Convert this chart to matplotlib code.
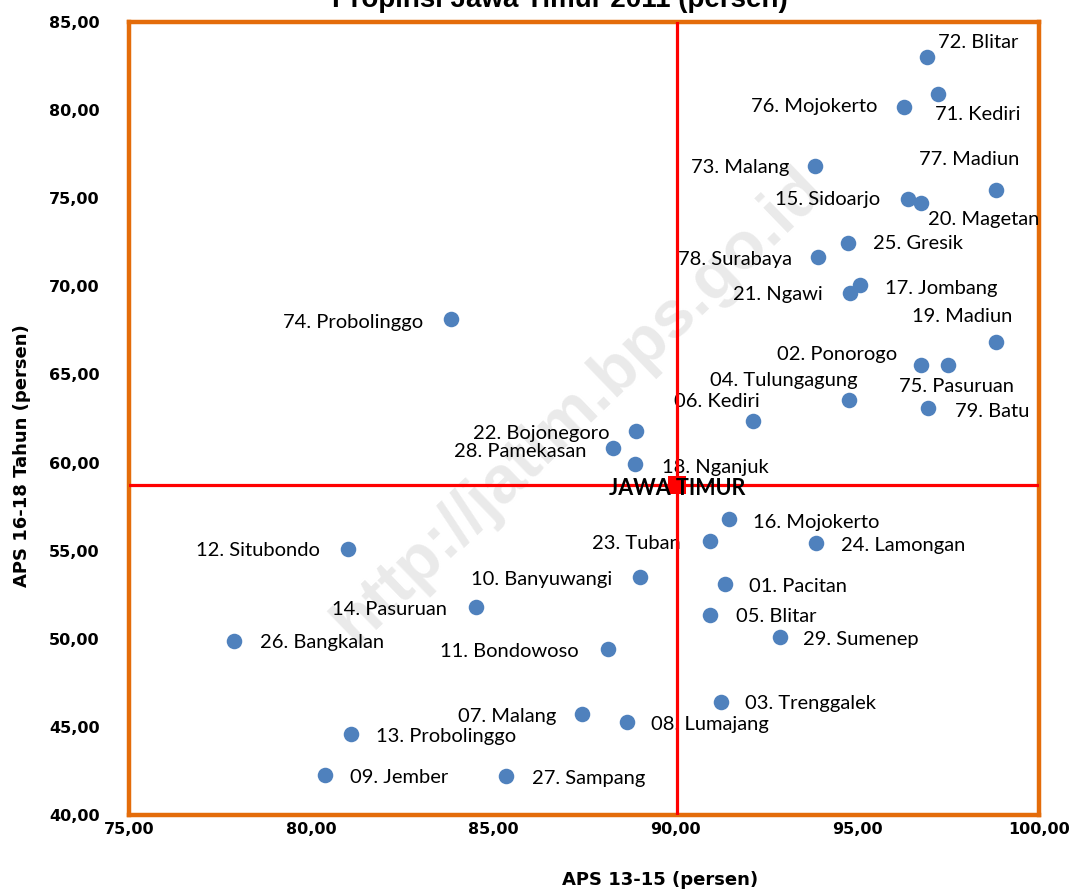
import matplotlib
matplotlib.use("Agg")
import matplotlib.pyplot as plt

# APS 13-15 (x) dan APS 16-18 (y) per kabupaten/kota, Jawa Timur 2011
kab_names = [
    "01. Pacitan", "02. Ponorogo", "03. Trenggalek", "04. Tulungagung", "05. Blitar",
    "06. Kediri", "07. Malang", "08. Lumajang", "09. Jember", "10. Banyuwangi",
    "11. Bondowoso", "12. Situbondo", "13. Probolinggo", "14. Pasuruan", "15. Sidoarjo",
    "16. Mojokerto", "17. Jombang", "18. Nganjuk", "19. Madiun", "20. Magetan",
    "21. Ngawi", "22. Bojonegoro", "23. Tuban", "24. Lamongan", "25. Gresik",
    "26. Bangkalan", "27. Sampang", "28. Pamekasan", "29. Sumenep",
    "71. Kediri", "72. Blitar", "73. Malang", "74. Probolinggo", "75. Pasuruan",
    "76. Mojokerto", "77. Madiun", "78. Surabaya", "79. Batu",
]
aps_13_15 = [
    91.37, 96.76, 91.26, 94.78, 90.96,
    92.14, 87.45, 88.68, 80.38, 89.04,
    88.16, 81.02, 81.10, 84.53, 96.40,
    91.48, 95.08, 88.90, 98.82, 96.76,
    94.81, 88.93, 90.96, 93.87, 94.75,
    77.88, 85.36, 88.30, 92.88,
    97.23, 96.92, 93.85, 83.85, 97.50,
    96.29, 98.82, 93.93, 96.95,
]
aps_16_18 = [
    53.10, 65.53, 46.41, 63.55, 51.35,
    62.35, 45.73, 45.27, 42.26, 53.50,
    49.41, 55.09, 44.59, 51.80, 74.95,
    56.79, 70.07, 59.91, 66.84, 74.73,
    69.62, 61.79, 55.54, 55.43, 72.46,
    49.87, 42.21, 60.82, 50.10,
    80.91, 83.01, 76.83, 68.14, 65.53,
    80.18, 75.47, 71.66, 63.09,
]
prov_name = "JAWA TIMUR"
prov_x = 90.05
prov_y = 58.72

x_ticks = [75, 80, 85, 90, 95, 100]
y_ticks = [40, 45, 50, 55, 60, 65, 70, 75, 80, 85]

# label placement: (ha, dx px, dy px downward)
label_pos = [
    ("left", 24, 2), ("right", -24, -11), ("left", 24, 1), ("right", 9, -19), ("left", 26, 2),
    ("right", 7, -20), ("right", -26, 2), ("left", 24, 2), ("left", 25, 2), ("right", -28, 2),
    ("right", -29, 2), ("right", -28, 1), ("left", 25, 2), ("right", -29, 2), ("right", -28, 0),
    ("left", 24, 3), ("left", 25, 3), ("left", 27, 3), ("left", -84, -26), ("left", 7, 17),
    ("right", -27, 1), ("right", -27, 2), ("right", -29, 2), ("left", 25, 2), ("left", 25, 1),
    ("left", 26, 1), ("left", 26, 2), ("right", -27, 3), ("left", 23, 2),
    ("left", -3, 20), ("left", 11, -15), ("right", -26, 2), ("right", -28, 3), ("left", -49, 21),
    ("right", -27, 0), ("left", -77, -30), ("right", -26, 2), ("left", 27, 3),
]

fig = plt.figure(figsize=(10.75, 8.91), dpi=100)
ax = fig.add_axes([129 / 1075, 76 / 891, 910 / 1075, 793 / 891])

orange = "#E46C0A"
for s in ax.spines.values():
    s.set_color(orange)
    s.set_linewidth(3.2)

ax.set_xlim(75, 100)
ax.set_ylim(40, 85)
ax.set_xticks(x_ticks)
ax.set_yticks(y_ticks)
ax.set_xticklabels([f"{v:.2f}".replace(".", ",") for v in x_ticks])
ax.set_yticklabels([f"{v:.2f}".replace(".", ",") for v in y_ticks])
ax.tick_params(axis="both", length=0, labelsize=11.5)
ax.tick_params(axis="y", pad=21)
ax.tick_params(axis="x", pad=5)
for lab in ax.get_xticklabels() + ax.get_yticklabels():
    lab.set_fontweight("bold")

fig.text(660 / 1075, 1 - 880 / 891, "APS 13-15 (persen)", ha="center", va="center",
         fontsize=13, fontweight="bold")
fig.text(22 / 1075, 1 - 456 / 891, "APS 16-18 Tahun (persen)", ha="center", va="center",
         rotation=90, fontsize=13, fontweight="bold")
fig.text(560 / 1075, 1 - 7 / 891, "Propinsi Jawa Timur 2011 (persen)", ha="center",
         va="baseline", fontsize=20, fontweight="bold", family="Liberation Sans")

# watermark
ax.text(0.495, 0.515, "http://jatim.bps.go.id", transform=ax.transAxes,
        rotation=44, ha="center", va="center", fontsize=48, fontweight="bold",
        color="#EAEAEA", family="Liberation Sans", zorder=0)

ax.scatter(aps_13_15, aps_16_18, s=125, color="#4F81BD", zorder=3, linewidths=0)

for name, x, y, (ha, dx, dy) in zip(kab_names, aps_13_15, aps_16_18, label_pos):
    ax.annotate(name, (x, y), xytext=(dx, -dy), textcoords="offset pixels",
                ha=ha, va="center", fontsize=14.5, family="Lato", zorder=4)

ax.axvline(prov_x, color="red", lw=2.3, zorder=5)
ax.axhline(prov_y, color="red", lw=2.3, zorder=5)
ax.scatter([prov_x], [prov_y], s=185, marker="s", color="red", zorder=5, linewidths=0)
ax.annotate(prov_name, (prov_x, prov_y), xytext=(0, -3), textcoords="offset pixels",
            ha="center", va="center", fontsize=15.5, fontweight="bold",
            family="Lato", zorder=6)

fig.savefig("out.png", dpi=100)
